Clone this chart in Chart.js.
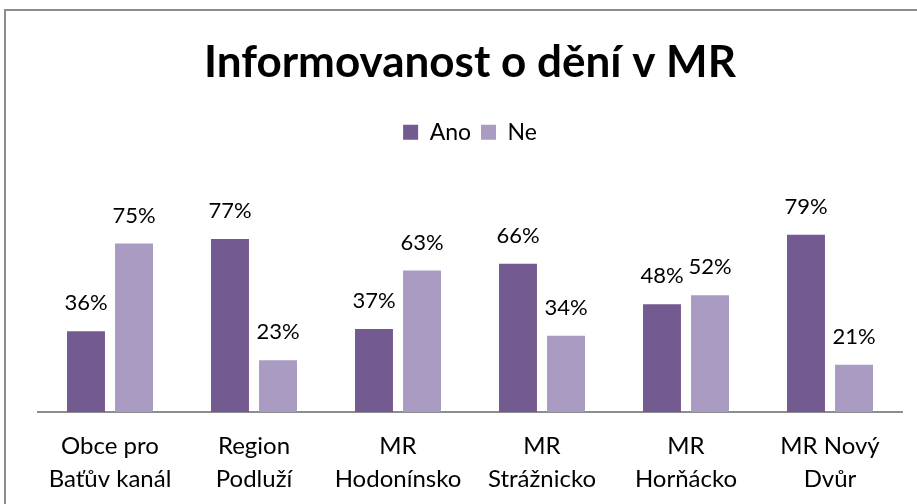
<!DOCTYPE html>
<html>
<head>
<meta charset="utf-8">
<script src="https://cdn.jsdelivr.net/npm/chart.js@4.4.0/dist/chart.umd.min.js"></script>
<style>
  html, body { margin: 0; padding: 0; background: #fff; }
  canvas { display: block; }
</style>
</head>
<body>
<canvas id="mrChart" width="917" height="504"></canvas>
<script>
const categories = [
  ["Obce pro", "Baťův kanál"],
  ["Region", "Podluží"],
  ["MR", "Hodonínsko"],
  ["MR", "Strážnicko"],
  ["MR", "Horňácko"],
  ["MR Nový", "Dvůr"]
];
const anoValues = [36, 77, 37, 66, 48, 79];
const neValues = [75, 23, 63, 34, 52, 21];

const fontFamily = "Lato, 'Open Sans', sans-serif";

// frame around the chart (the reference is cropped on the right and bottom)
const framePlugin = {
  id: "frame",
  beforeDraw(chart) {
    const ctx = chart.ctx;
    ctx.save();
    ctx.fillStyle = "#fff";
    ctx.fillRect(0, 0, chart.width, chart.height);
    ctx.strokeStyle = "#8c8c8c";
    ctx.lineWidth = 2;
    ctx.strokeRect(5, 10, chart.width + 50, chart.height + 50);
    ctx.restore();
  }
};

// percent labels above each bar
const valueLabels = {
  id: "valueLabels",
  afterDatasetsDraw(chart) {
    const ctx = chart.ctx;
    ctx.save();
    ctx.font = "22px " + fontFamily;
    ctx.fillStyle = "#000";
    ctx.textAlign = "center";
    ctx.textBaseline = "middle";
    chart.data.datasets.forEach((ds, i) => {
      chart.getDatasetMeta(i).data.forEach((bar, j) => {
        ctx.fillText(ds.data[j] + "%", bar.x, bar.y - 28);
      });
    });
    ctx.restore();
  }
};

new Chart(document.getElementById("mrChart"), {
  type: "bar",
  data: {
    labels: categories,
    datasets: [
      { label: "Ano", data: anoValues, backgroundColor: "#735a91" },
      { label: "Ne", data: neValues, backgroundColor: "#a99bc2" }
    ]
  },
  options: {
    responsive: false,
    animation: false,
    layout: { padding: { left: 38, right: 15, top: 0, bottom: 0 } },
    datasets: {
      bar: { categoryPercentage: 0.667, barPercentage: 0.79 }
    },
    plugins: {
      title: {
        display: true,
        text: "Informovanost o dění v MR",
        color: "#000",
        font: { family: fontFamily, size: 44, weight: "bold", lineHeight: 1.2 },
        padding: { top: 36, bottom: 22 }
      },
      legend: {
        display: true,
        position: "top",
        labels: {
          color: "#000",
          boxWidth: 15,
          boxHeight: 15,
          padding: 10,
          font: { family: fontFamily, size: 23 }
        }
      },
      tooltip: { enabled: false }
    },
    scales: {
      x: {
        grid: { display: false, drawTicks: false },
        border: { display: true, color: "#8c8c8c", width: 2 },
        afterFit(scale) { scale.height = 92; },
        ticks: {
          color: "#000",
          padding: 18,
          maxRotation: 0,
          autoSkip: false,
          font: { family: fontFamily, size: 24, lineHeight: 1.375 }
        }
      },
      y: {
        display: false,
        min: 0,
        max: 115
      }
    }
  },
  plugins: [framePlugin, valueLabels]
});
</script>
</body>
</html>
